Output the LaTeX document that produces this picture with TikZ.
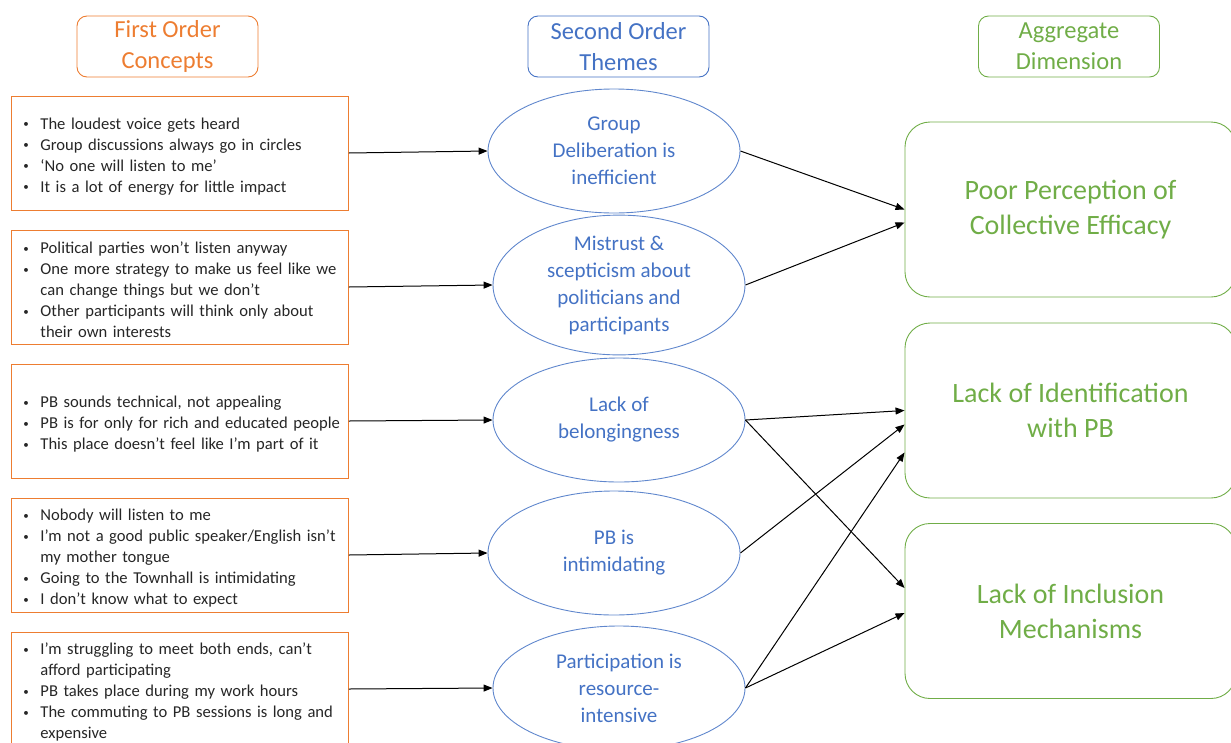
\documentclass[tikz,border=0pt]{standalone}
\usepackage{fontspec}
\setmainfont{Carlito}
\usetikzlibrary{positioning,calc,arrows.meta,shapes.geometric}
\definecolor{conceptorange}{HTML}{ED7D31}
\definecolor{themeblue}{HTML}{4472C4}
\definecolor{dimgreen}{HTML}{70AD47}
\definecolor{bodytext}{HTML}{262626}
\tikzset{>={Triangle[length=9pt,width=7pt]}}
\newcommand{\bitem}[1]{\mbox{\makebox[17pt][l]{\raisebox{1.6pt}{\fontsize{11}{11}\selectfont\textbullet}}#1}}
\newcommand{\bcont}[1]{\mbox{\hspace*{17pt}#1}}

\begin{document}
\begin{tikzpicture}[x=1pt,y=-1pt,
  header/.style={draw,line width=0.9pt,rounded corners=10pt,minimum width=181pt,minimum height=61pt,align=center,inner sep=0pt,font=\fontsize{24.5}{31}\selectfont},
  concept/.style={draw=conceptorange,line width=0.9pt,minimum height=114pt,text width=313pt,inner xsep=12pt,align=left,anchor=west,text=bodytext,font=\fontsize{16.6}{21}\selectfont},
  theme/.style={ellipse,draw=themeblue!85!white,line width=0.9pt,minimum width=252pt,minimum height=124pt,inner sep=0pt,align=center,text=themeblue,font=\fontsize{21}{27}\selectfont},
  dimension/.style={draw=dimgreen,line width=0.9pt,rounded corners=25pt,minimum width=331pt,minimum height=175pt,align=center,text=dimgreen,font=\fontsize{28}{35}\selectfont},
  link/.style={->,line width=1pt,black}]
\useasboundingbox (0,0) rectangle (1231,742);
\node[header,draw=conceptorange,text=conceptorange] (h1) at (167.5,46.5) {First Order\\Concepts};
\node[header,draw=themeblue,text=themeblue] (h2) at (618.5,46.5) {Second Order\\Themes};
\node[header,draw=dimgreen,text=dimgreen] (h3) at (1069,46.5) {Aggregate\\Dimension};
\node[concept] (c1) at (11,153) {\rule{0pt}{18pt}\bitem{The loudest voice gets heard}\\
  \bitem{Group discussions always go in circles}\\
  \bitem{‘No one will listen to me’}\\
  \bitem{It is a lot of energy for little impact}};
\node[concept] (c2) at (11,287) {\rule{0pt}{18pt}\bitem{Political parties won’t listen anyway}\\
  \bitem{One more strategy to make us feel like we}\\
  \bcont{can change things but we don’t}\\
  \bitem{Other participants will think only about}\\
  \bcont{their own interests}};
\node[concept] (c3) at (11,421) {\rule{0pt}{18pt}\bitem{PB sounds technical, not appealing}\\
  \bitem{PB is for only for rich and educated people}\\
  \bitem{This place doesn’t feel like I’m part of it}};
\node[concept] (c4) at (11,555) {\rule{0pt}{18pt}\bitem{Nobody will listen to me}\\
  \bitem{I’m not a good public speaker/English isn’t}\\
  \bcont{my mother tongue}\\
  \bitem{Going to the Townhall is intimidating}\\
  \bitem{I don’t know what to expect}};
\node[concept] (c5) at (11,689) {\rule{0pt}{18pt}\bitem{I’m struggling to meet both ends, can’t}\\
  \bcont{afford participating}\\
  \bitem{PB takes place during my work hours}\\
  \bitem{The commuting to PB sessions is long and}\\
  \bcont{expensive}};
\node[theme] (t1) at (614,151) {Group\\Deliberation is\\inefficient};
\node[theme] (t2) at (619,285) {Mistrust \&\\scepticism about\\politicians and\\participants};
\node[theme] (t3) at (619,420) {Lack of\\belongingness};
\node[theme] (t4) at (614,553) {PB is\\intimidating};
\node[theme] (t5) at (619,688) {Participation is\\resource-\\intensive};
\node[dimension] (d1) at (1070.5,209.5) {Poor Perception of\\Collective Efficacy};
\node[dimension] (d2) at (1070.5,410.5) {Lack of Identification\\with PB};
\node[dimension] (d3) at (1070.5,611) {Lack of Inclusion\\Mechanisms};
\draw[link] (c1.east) -- (t1.west);
\draw[link] (c2.east) -- (t2.west);
\draw[link] (c3.east) -- (t3.west);
\draw[link] (c4.east) -- (t4.west);
\draw[link] (c5.east) -- (t5.west);
\draw[link] (t1.east) -- (d1.west);
\draw[link] (t2.east) -- ([yshift=-13pt]d1.west);
\draw[link] (t3.east) -- (d2.west);
\draw[link] (t3.east) -- ([yshift=23pt]d3.west);
\draw[link] (t4.east) -- ([yshift=-14pt]d2.west);
\draw[link] (t5.east) -- ([yshift=-42pt]d2.west);
\draw[link] (t5.east) -- ([yshift=-2pt]d3.west);
\end{tikzpicture}
\end{document}
